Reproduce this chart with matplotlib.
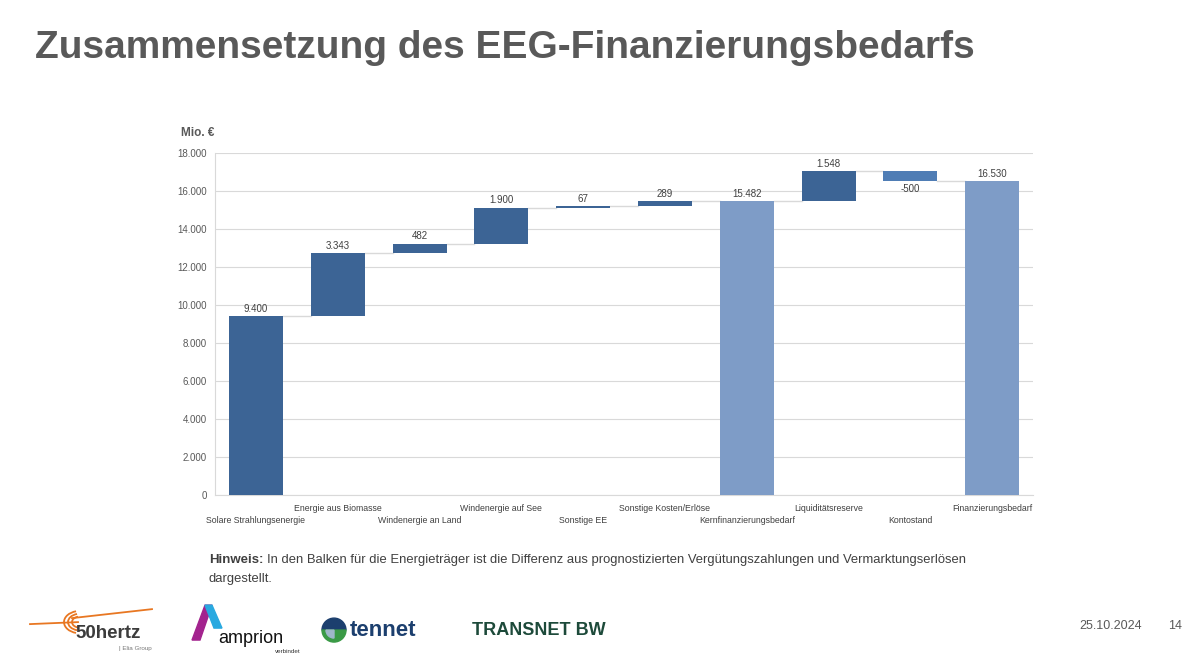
import numpy as np
import matplotlib
matplotlib.use("Agg")
import matplotlib.pyplot as plt
from matplotlib.patches import Polygon, Wedge, Arc

plt.rcParams['font.family'] = ['Liberation Sans', 'DejaVu Sans']

# Daten
kategorien = ['Solare Strahlungsenergie', 'Energie aus Biomasse', 'Windenergie an Land',
              'Windenergie auf See', 'Sonstige EE', 'Sonstige Kosten/Erlöse',
              'Kernfinanzierungsbedarf', 'Liquiditätsreserve', 'Kontostand',
              'Finanzierungsbedarf']
werte = [9400, 3343, 482, 1900, 67, 289, 15482, 1548, -500, 16530]
summe = [False, False, False, False, False, False, True, False, False, True]
y_ticks = [0, 2000, 4000, 6000, 8000, 10000, 12000, 14000, 16000, 18000]

dunkel = '#3C6495'
hell = '#7E9CC7'
mittel = '#4F7DB5'
grau = '#595959'

def fmt(v):
    return f'{v:,}'.replace(',', '.')

fig = plt.figure(figsize=(12, 6.65), dpi=100)
fig.text(0.029, 0.928, 'Zusammensetzung des EEG-Finanzierungsbedarfs', fontsize=28,
         fontweight='bold', color=grau, va='center')

ax = fig.add_axes([0.1792, 0.2556, 0.6817, 0.5143])
x = np.arange(len(kategorien))
breite = 0.66

# Wasserfall berechnen
unten, oben = [], []
stand = 0
for w, s in zip(werte, summe):
    if s:
        unten.append(0)
        stand = w
        oben.append(w)
    else:
        unten.append(stand)
        stand += w
        oben.append(stand)
unten = np.array(unten)
oben = np.array(oben)
hoehe = oben - unten

farben = []
for i, s in enumerate(summe):
    if s:
        farben.append(hell)
    elif werte[i] < 0:
        farben.append(mittel)
    else:
        farben.append(dunkel)

ax.bar(x, hoehe, breite, bottom=unten, color=farben, zorder=3)

# Verbindungslinien
for i in range(len(x) - 1):
    ax.plot([x[i] + breite / 2, x[i + 1] - breite / 2], [oben[i], oben[i]],
            color='#d9d9d9', lw=1, zorder=2)

# Beschriftungen
for i, w in enumerate(werte):
    if w < 0:
        ax.text(x[i], min(unten[i], oben[i]) - 150, fmt(w), ha='center', va='top',
                fontsize=7, color='#404040')
    else:
        ax.text(x[i], oben[i] + 120, fmt(w), ha='center', va='bottom',
                fontsize=7, color='#404040')

ax.set_xlim(-0.5, len(x) - 0.5)
ax.set_ylim(0, 18000)
ax.set_yticks(y_ticks)
ax.set_yticklabels([fmt(t) for t in y_ticks], fontsize=7, color=grau)
ax.yaxis.grid(True, color='#d9d9d9', lw=0.8, zorder=0)
ax.set_xticks(x)
ax.set_xticklabels([])
ax.tick_params(length=0, pad=6)
for i, k in enumerate(kategorien):
    ax.annotate(k, (x[i], 0), xytext=(0, -9.4 if i % 2 else -18.7), textcoords='offset points',
                xycoords='data', ha='center', va='center', fontsize=6.3, color='#404040',
                annotation_clip=False)
for s in ['top', 'right']:
    ax.spines[s].set_visible(False)
for s in ['left', 'bottom']:
    ax.spines[s].set_color('#d9d9d9')

fig.text(0.151, 0.8, 'Mio. €', fontsize=8.5, fontweight='bold', color=grau, va='center')

# Hinweis
fig.text(0.174, 0.158, 'Hinweis:', fontsize=9.5, fontweight='bold', color='#404040', va='center')
fig.text(0.2225, 0.158, 'In den Balken für die Energieträger ist die Differenz aus prognostizierten '
         'Vergütungszahlungen und Vermarktungserlösen', fontsize=9.35, color='#404040', va='center')
fig.text(0.174, 0.129, 'dargestellt.', fontsize=9.35, color='#404040', va='center')

# Fußzeile
fig.text(0.952, 0.058, '25.10.2024', fontsize=9, color=grau, ha='right', va='center')
fig.text(0.985, 0.058, '14', fontsize=9, color=grau, ha='right', va='center')

# Logos (vereinfacht)
lg = fig.add_axes([0, 0, 1, 0.12])
lg.set_xlim(0, 1200)
lg.set_ylim(665, 585)
lg.axis('off')
for r in [8, 12, 16]:
    lg.add_patch(Arc((80, 622), 2 * r, 2 * r * 0.7, theta1=110, theta2=250,
                     color='#e87722', lw=1.3))
lg.plot([30, 78], [624, 622], color='#e87722', lw=1.3)
lg.plot([72, 152], [618, 609], color='#e87722', lw=1.3)
lg.text(75, 633, '50hertz', fontsize=13.5, fontweight='bold', color='#3c3c3c', va='center')
lg.text(119, 648, '| Elia Group', fontsize=4.5, color='#777777', va='center')

lg.add_patch(Polygon([[192, 640], [200, 640], [212, 605], [205, 605]], color='#a3238e'))
lg.add_patch(Polygon([[205, 605], [212, 605], [222, 628], [214, 628]], color='#29a9e0'))
lg.text(218, 638, 'amprion', fontsize=13, color='#111111', va='center')
lg.text(275, 651, 'verbindet', fontsize=4.5, color='#333333', va='center')

lg.add_patch(Wedge((334, 630), 12, 180, 360, color='#1c3f6e'))
lg.add_patch(Wedge((334, 630), 12, 0, 180, color='#3a9a46'))
lg.add_patch(Wedge((334, 630), 8, 90, 180, color='#9fb7c9'))
lg.text(350, 630, 'tennet', fontsize=16, fontweight='bold', color='#1c3f6e', va='center')

lg.text(472, 630, 'TRANSNET BW', fontsize=13, fontweight='bold', color='#1d4a3a', va='center')

fig.savefig('out.png', dpi=100)
